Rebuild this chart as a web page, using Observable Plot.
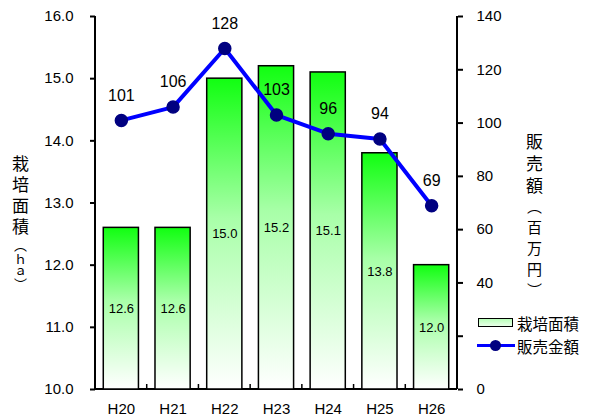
<!DOCTYPE html>
<html><head><meta charset="utf-8">
<script src="https://cdn.jsdelivr.net/npm/d3@7"></script>
<script src="https://cdn.jsdelivr.net/npm/@observablehq/plot@0.6"></script>
<style>
body{margin:0;background:#fff;}
#wrap{position:relative;width:593px;height:416px;overflow:hidden;font-family:"Liberation Sans",Arial,sans-serif;}
.vt{position:absolute;writing-mode:vertical-rl;text-orientation:upright;font-family:"Noto Sans CJK JP",sans-serif;color:#000;font-size:17px;line-height:1;}
.leg{position:absolute;font-family:"Noto Sans CJK JP",sans-serif;font-size:15.5px;line-height:16px;height:16px;color:#000;white-space:nowrap;}
</style></head>
<body><div id="wrap"></div>
<script>
const categories = ["H20","H21","H22","H23","H24","H25","H26"];
const areaValues = [12.6,12.6,15.0,15.2,15.1,13.8,12.0];
const salesValues = [101,106,128,103,96,94,69];
const areaTicks = [10,11,12,13,14,15,16];
const salesTicks = [0,20,40,60,80,100,120,140];
const salesTickLabels = [0,40,60,80,100,120,140]; // "20" is hidden behind the legend in the reference
const areaTitle = "栽培面積";
const areaUnit = "（ｈａ）";
const salesTitle = "販売額";
const salesUnit = "（百万円）";
const legendArea = "栽培面積";
const legendSales = "販売金額";

const W = 593, H = 416, ML = 95, MR = 136, MT = 16, MB = 27;
const yMin = 10, yMax = 16, sMax = 140;
const PI = 0.32, PO = 0.16;
const toY = v => yMin + v * (yMax - yMin) / sMax;
const fromY = y => Math.round((y - yMin) * sMax / (yMax - yMin));

const rows = categories.map((c, i) => ({cat: c, area: areaValues[i], sales: salesValues[i]}));

const decor = (index, scales, values, dims) => {
  const g = d3.create("svg:g");
  const defs = g.append("defs");
  const lg = defs.append("linearGradient").attr("id", "barGrad").attr("x1", 0).attr("y1", 0).attr("x2", 0).attr("y2", 1);
  lg.append("stop").attr("offset", "0%").attr("stop-color", "#11ff11");
  lg.append("stop").attr("offset", "45%").attr("stop-color", "#a8ffa8");
  lg.append("stop").attr("offset", "100%").attr("stop-color", "#ffffff");
  const y0 = scales.y(yMin), y1 = scales.y(yMax);
  const xl = dims.marginLeft, xr = dims.width - dims.marginRight;
  const stepPx = (xr - xl) / categories.length;
  g.append("line").attr("x1", xl).attr("x2", xl).attr("y1", y1).attr("y2", y0).attr("stroke", "#000").attr("stroke-width", 2);
  g.append("line").attr("x1", xr).attr("x2", xr).attr("y1", y1).attr("y2", y0).attr("stroke", "#000").attr("stroke-width", 2);
  g.append("line").attr("x1", xl).attr("x2", xr).attr("y1", y0).attr("y2", y0).attr("stroke", "#000").attr("stroke-width", 2);
  categories.slice(1).forEach(c => {
    const x = scales.x(c) - stepPx * PI / 2;
    g.append("line").attr("x1", x).attr("x2", x).attr("y1", y0).attr("y2", y0 - 5).attr("stroke", "#000").attr("stroke-width", 1.5);
  });
  return g.node();
};

const plot = Plot.plot({
  width: W, height: H,
  marginLeft: ML, marginRight: MR, marginTop: MT, marginBottom: MB,
  style: {fontFamily: "'Liberation Sans', Arial, sans-serif", fontSize: "15px", color: "#000", background: "#fff", overflow: "visible"},
  x: {domain: categories, paddingInner: PI, paddingOuter: PO, round: false, label: null},
  y: {domain: [yMin, yMax], label: null},
  marks: [
    decor,
    Plot.barY(rows, {x: "cat", y1: () => yMin, y2: "area", fill: "url(#barGrad)", stroke: "#000", strokeWidth: 1.5}),
    Plot.text(rows, {x: "cat", y: d => (yMin + d.area) / 2, text: d => d.area.toFixed(1), fontSize: 13, fill: "#000"}),
    Plot.line(rows, {x: "cat", y: d => toY(d.sales), stroke: "#0000ff", strokeWidth: 4}),
    Plot.dot(rows, {x: "cat", y: d => toY(d.sales), r: 6, fill: "#000080", stroke: "#000080"}),
    Plot.text(rows, {x: "cat", y: d => toY(d.sales), text: d => String(d.sales), dy: -25, fontSize: 16, fill: "#000"}),
    Plot.axisY(areaTicks, {anchor: "left", tickSize: 5, tickPadding: 17, strokeWidth: 2, tickFormat: d => d.toFixed(1), fontSize: 15, label: null}),
    Plot.axisY(salesTicks.map(toY), {anchor: "right", tickSize: 5, strokeWidth: 2, fill: "none", label: null}),
    Plot.axisY(salesTickLabels.map(toY), {anchor: "right", tickSize: 5, tickPadding: 14, stroke: "none", tickFormat: d => String(fromY(d)), fontSize: 15, label: null}),
    Plot.axisX(categories, {anchor: "bottom", tickSize: 0, tickPadding: 14, fontSize: 15, label: null})
  ]
});
const wrap = document.getElementById("wrap");
wrap.appendChild(plot);

const t1 = document.createElement("div");
t1.className = "vt";
t1.style.left = "12px"; t1.style.top = "155px";
t1.innerHTML = `<span style="letter-spacing:4px">${areaTitle}</span><span style="font-size:13px">${areaUnit}</span>`;
wrap.appendChild(t1);

const t2 = document.createElement("div");
t2.className = "vt";
t2.style.left = "526px"; t2.style.top = "133px";
t2.innerHTML = `<span style="letter-spacing:5px">${salesTitle}</span><span style="font-size:15px;letter-spacing:6px">${salesUnit}</span>`;
wrap.appendChild(t2);

const l1 = document.createElement("div");
l1.className = "leg";
l1.style.left = "478px"; l1.style.top = "312px";
l1.innerHTML = `<span style="display:inline-block;width:33px;height:7px;border:1.5px solid #000;background:linear-gradient(#b8ffb8,#e8ffe8);vertical-align:middle;margin-right:4px"></span><span style="vertical-align:middle">${legendArea}</span>`;
wrap.appendChild(l1);

const l2 = document.createElement("div");
l2.className = "leg";
l2.style.left = "477px"; l2.style.top = "335px";
l2.innerHTML = `<span style="display:inline-block;position:relative;width:38px;height:16px;vertical-align:middle;margin-right:2px"><span style="position:absolute;left:0;top:6.5px;width:38px;height:3px;background:#0000ff"></span><span style="position:absolute;left:13px;top:2.5px;width:11px;height:11px;border-radius:50%;background:#000080"></span></span><span style="vertical-align:middle">${legendSales}</span>`;
wrap.appendChild(l2);
</script>
</body></html>
